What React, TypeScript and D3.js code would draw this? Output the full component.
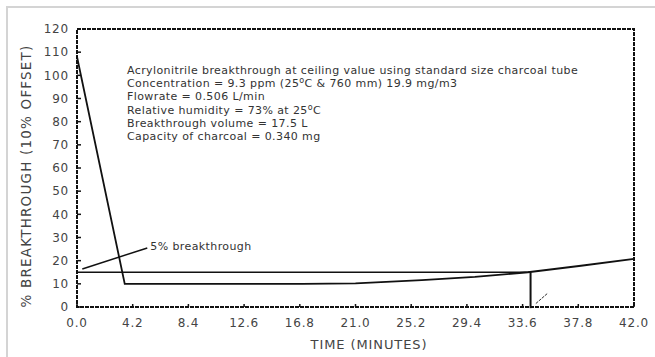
import { useMemo } from "react";
import * as d3 from "d3";

// values
const xTicks = [0, 4.2, 8.4, 12.6, 16.8, 21.0, 25.2, 29.4, 33.6, 37.8, 42.0];
const yTicks = [0, 10, 20, 30, 40, 50, 60, 70, 80, 90, 100, 110, 120];

const curveTime = [0, 3.6, 17, 21, 26, 30, 34, 38, 42];
const curveValue = [108, 10, 10, 10.2, 11.6, 13, 15, 17.8, 20.8];

const thresholdTime = [0, 34.2];
const thresholdValue = [15, 15];

const dropTime = [34.2, 34.2];
const dropValue = [15, -0.5];

const slashTime = [34.6, 35.5];
const slashValue = [1.5, 6];

const pointerTime = [0.4, 5.3];
const pointerValue = [16.4, 25.5];

const infoLines = [
  "Acrylonitrile breakthrough at ceiling value using standard size charcoal tube",
  "Concentration = 9.3 ppm (25|C & 760 mm) 19.9 mg/m3",
  "Flowrate = 0.506 L/min",
  "Relative humidity = 73% at 25|C",
  "Breakthrough volume = 17.5 L",
  "Capacity of charcoal = 0.340 mg",
];

const W = 655;
const H = 357;
const margin = { top: 29, right: 21, bottom: 50, left: 77 };
const font = "'DejaVu Sans', Verdana, sans-serif";

function InfoLine({ text, x, y }: { text: string; x: number; y: number }) {
  // "|" marks a superscript degree sign
  const parts = text.split("|");
  return (
    <text x={x} y={y} fontSize={11} letterSpacing={0.4} fill="#333" fontFamily={font}>
      {parts.map((p, i) => (
        <tspan key={i}>
          {i > 0 && (
            <tspan dy={-4} fontSize={8}>
              o
            </tspan>
          )}
          {i > 0 ? <tspan dy={4}>{p}</tspan> : p}
        </tspan>
      ))}
    </text>
  );
}

export default function App() {
  const x = useMemo(
    () => d3.scaleLinear().domain([0, 42]).range([margin.left, W - margin.right]),
    []
  );
  const y = useMemo(
    () => d3.scaleLinear().domain([0, 120]).range([H - margin.bottom, margin.top]),
    []
  );

  const line = d3
    .line<[number, number]>()
    .x((d) => x(d[0]))
    .y((d) => y(d[1]));

  const pts = (t: number[], v: number[]) => t.map((d, i) => [d, v[i]] as [number, number]);

  const x0 = x(0);
  const x1 = x(42);
  const y0 = y(0);
  const y1 = y(120);

  return (
    <svg
      width={W}
      height={H}
      style={{ position: "absolute", left: 0, top: 0, background: "#fff" }}
    >
      {/* light page frame */}
      <path d={`M7,${H} L7,7 L${W},7`} fill="none" stroke="#d4d4d4" strokeWidth={2} />

      {/* plot frame */}
      <rect
        x={x0}
        y={y1}
        width={x1 - x0}
        height={y0 - y1}
        fill="none"
        stroke="#111"
        strokeWidth={2}
        strokeDasharray="4,1"
      />

      {/* y ticks + labels */}
      {yTicks.map((t) => (
        <g key={t}>
          <line x1={x0} x2={x0 + 4} y1={y(t)} y2={y(t)} stroke="#111" strokeWidth={1.5} />
          <text
            x={x0 - 8}
            y={y(t)}
            dy="0.35em"
            textAnchor="end"
            fontSize={12}
            letterSpacing={0.8}
            fill="#444"
            fontFamily={font}
          >
            {t}
          </text>
        </g>
      ))}

      {/* x ticks + labels */}
      {xTicks.map((t) => (
        <g key={t}>
          <line x1={x(t)} x2={x(t)} y1={y0} y2={y0 - 3} stroke="#111" strokeWidth={1.5} />
          <text
            x={x(t)}
            y={y0 + 20}
            textAnchor="middle"
            fontSize={12}
            letterSpacing={0.8}
            fill="#444"
            fontFamily={font}
          >
            {t.toFixed(1)}
          </text>
        </g>
      ))}

      {/* axis titles */}
      <text
        x={369}
        y={349}
        textAnchor="middle"
        fontSize={13}
        letterSpacing={0.9}
        fill="#444"
        fontFamily={font}
      >
        TIME (MINUTES)
      </text>
      <text
        transform={`translate(31,${(y0 + y1) / 2 + 8}) rotate(-90)`}
        textAnchor="middle"
        fontSize={13.5}
        letterSpacing={1.2}
        fill="#444"
        fontFamily={font}
      >
        % BREAKTHROUGH (10% OFFSET)
      </text>

      {/* data */}
      <path d={line(pts(thresholdTime, thresholdValue)) ?? ""} fill="none" stroke="#111" strokeWidth={1.5} />
      <path d={line(pts(curveTime, curveValue)) ?? ""} fill="none" stroke="#111" strokeWidth={1.8} />
      <path d={line(pts(dropTime, dropValue)) ?? ""} fill="none" stroke="#111" strokeWidth={2} />
      <path
        d={line(pts(slashTime, slashValue)) ?? ""}
        fill="none"
        stroke="#333"
        strokeWidth={1}
        strokeDasharray="3,1"
      />
      <path d={line(pts(pointerTime, pointerValue)) ?? ""} fill="none" stroke="#111" strokeWidth={1.5} />
      <text
        x={x(pointerTime[1]) + 3}
        y={y(pointerValue[1]) + 2}
        fontSize={11}
        letterSpacing={0.4}
        fill="#333"
        fontFamily={font}
      >
        5% breakthrough
      </text>

      {/* info block */}
      {infoLines.map((l, i) => (
        <InfoLine key={i} text={l} x={127} y={74 + i * 13.2} />
      ))}
    </svg>
  );
}
